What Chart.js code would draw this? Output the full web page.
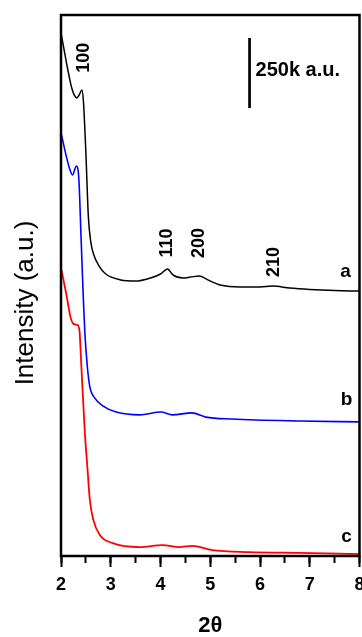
<!DOCTYPE html>
<html>
<head>
<meta charset="utf-8">
<script src="https://cdn.jsdelivr.net/npm/chart.js@4"></script>
<style>
  html, body { margin: 0; padding: 0; background: #fff; }
  #xrd { display: block; }
</style>
</head>
<body>
<canvas id="xrd" width="362" height="637"></canvas>
<script>
// 2-theta values and intensities (k a.u.)
const angleA = [2.00, 2.06, 2.11, 2.16, 2.21, 2.27, 2.32, 2.37, 2.42, 2.45, 2.50, 2.55, 2.60, 2.66, 2.75, 2.90, 3.20, 3.50, 3.80, 4.00, 4.14, 4.25, 4.45, 4.60, 4.78, 4.95, 5.20, 5.60, 6.00, 6.25, 6.60, 7.00, 7.50, 8.00];
const intensityA = [1868, 1810, 1761, 1716, 1675, 1645, 1636, 1648, 1664, 1625, 1440, 1211, 1120, 1075, 1040, 1007, 986, 982, 993, 1007, 1025, 1004, 993, 996, 1000, 986, 968, 961, 961, 964, 957, 952, 948, 946];

const angleB = [2.01, 2.11, 2.18, 2.23, 2.31, 2.36, 2.40, 2.45, 2.48, 2.53, 2.58, 2.68, 2.84, 3.11, 3.58, 4.01, 4.24, 4.63, 4.91, 5.44, 6.78, 8.00];
const intensityB = [1504, 1425, 1379, 1361, 1393, 1343, 1154, 914, 796, 675, 604, 564, 536, 514, 504, 514, 504, 511, 496, 489, 482, 479];

const angleC = [2.01, 2.11, 2.19, 2.25, 2.33, 2.37, 2.41, 2.48, 2.53, 2.58, 2.65, 2.78, 3.04, 3.58, 4.04, 4.38, 4.64, 5.04, 5.78, 6.78, 8.00];
const intensityC = [1021, 932, 854, 829, 825, 807, 675, 439, 318, 200, 129, 75, 46, 32, 39, 32, 36, 21, 14, 11, 7];

// scale bar: 250k a.u.
const barAngle = [5.79, 5.79];
const barIntensity = [1600, 1850];

const xTicks = [2, 3, 4, 5, 6, 7, 8];

// reflection labels and sample letters (data coordinates)
const peakText = ['100', '110', '200', '210'];
const peakAngle = [2.47, 4.13, 4.77, 6.28];
const peakIntensity = [1779, 1118, 1118, 1050];
const sampleText = ['a', 'b', 'c'];
const sampleAngle = [7.72, 7.74, 7.74];
const sampleIntensity = [1014, 557, 68];

const FONT = '"Liberation Sans", Arial, sans-serif';

const toPoints = (xs, ys) => xs.map((x, i) => ({ x, y: ys[i] }));

const figureExtras = {
    id: 'figureExtras',
    afterDraw(chart) {
        const { ctx, chartArea: a, scales: { x, y } } = chart;
        ctx.save();
        // frame
        ctx.strokeStyle = '#000';
        ctx.lineWidth = 2.5;
        ctx.strokeRect(a.left, a.top, a.right - a.left, a.bottom - a.top);

        ctx.fillStyle = '#000';
        ctx.textAlign = 'center';
        ctx.textBaseline = 'middle';

        // rotated reflection indices
        ctx.font = 'bold 18px ' + FONT;
        peakText.forEach((t, i) => {
            ctx.save();
            ctx.translate(x.getPixelForValue(peakAngle[i]), y.getPixelForValue(peakIntensity[i]));
            ctx.rotate(-Math.PI / 2);
            ctx.fillText(t, 0, 0);
            ctx.restore();
        });

        // sample letters
        ctx.font = 'bold 19px ' + FONT;
        sampleText.forEach((t, i) => {
            ctx.fillText(t, x.getPixelForValue(sampleAngle[i]), y.getPixelForValue(sampleIntensity[i]));
        });

        // scale bar label
        ctx.font = 'bold 20px ' + FONT;
        ctx.textAlign = 'left';
        ctx.fillText('250k a.u.', x.getPixelForValue(5.91), y.getPixelForValue(1733));

        // y title
        ctx.font = '26px ' + FONT;
        ctx.textAlign = 'center';
        ctx.translate(26, 303);
        ctx.rotate(-Math.PI / 2);
        ctx.fillText('Intensity (a.u.)', 0, 0);
        ctx.restore();
    }
};

const line = (data, color, width) => ({
    data, borderColor: color, borderWidth: width, pointRadius: 0,
    fill: false, cubicInterpolationMode: 'monotone', xAxisID: 'x', yAxisID: 'y'
});

// drop the extra room Chart.js keeps for the end tick labels
const noSidePadding = s => { s.paddingLeft = 0; s.paddingRight = 0; };

new Chart(document.getElementById('xrd'), {
    type: 'line',
    data: {
        datasets: [
            line(toPoints(angleA, intensityA), '#000000', 1.5),
            line(toPoints(angleB, intensityB), '#0000ff', 1.6),
            line(toPoints(angleC, intensityC), '#ff0000', 1.8),
            { ...line(toPoints(barAngle, barIntensity), '#000000', 2.7), cubicInterpolationMode: 'default', tension: 0 }
        ]
    },
    options: {
        responsive: false,
        animation: false,
        devicePixelRatio: 1,
        layout: { padding: { left: 61, right: 2.5, top: 15, bottom: 0 } },
        plugins: { legend: { display: false }, tooltip: { enabled: false } },
        scales: {
            xMinor: {
                type: 'linear', position: 'bottom', weight: 0, min: 2, max: 8,
                ticks: { display: false, stepSize: 0.5 },
                grid: { drawOnChartArea: false, tickLength: 7, tickWidth: 2, tickColor: '#000' },
                border: { display: false },
                afterFit: s => { s.height = 0; noSidePadding(s); }
            },
            x: {
                type: 'linear', position: 'bottom', weight: 1, min: 2, max: 8,
                afterBuildTicks: s => { s.ticks = xTicks.map(v => ({ value: v })); },
                ticks: { color: '#000', padding: 7, maxRotation: 0, autoSkip: false, font: { family: FONT, size: 18, weight: 'bold' } },
                grid: { drawOnChartArea: false, tickLength: 11, tickWidth: 2, tickColor: '#000' },
                border: { display: false },
                title: { display: true, text: '2θ', color: '#000', padding: 0, font: { family: FONT, size: 22, weight: 'bold', lineHeight: 1 } },
                afterFit: s => { s.height = 81; noSidePadding(s); }
            },
            y: { display: false, min: 0, max: 1932 }
        }
    },
    plugins: [figureExtras]
});
</script>
</body>
</html>
